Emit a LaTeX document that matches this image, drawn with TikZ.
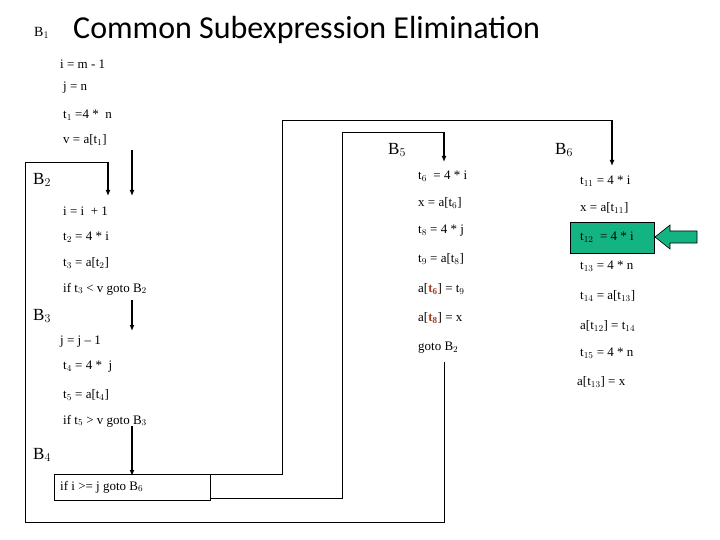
\documentclass[tikz,border=0pt]{standalone}
\usetikzlibrary{arrows.meta}
\usepackage{fontspec}
\setmainfont{Liberation Serif}
\newfontfamily\titlefont{Carlito}
\definecolor{hl}{RGB}{20,180,130}
\definecolor{rd}{RGB}{170,60,30}
\newcommand{\rt}[1]{\textcolor{rd}{\textbf{t}$_{\mathbf{#1}}$}}
\begin{document}
\begin{tikzpicture}[x=1pt,y=-1pt,
  code/.style={anchor=west,inner sep=0pt,font=\fontsize{13}{14}\selectfont},
  blab/.style={anchor=west,inner sep=0pt,font=\fontsize{17}{19}\selectfont},
  ln/.style={line width=0.8pt},
  ar/.style={line width=1.6pt,-{Latex[length=6pt,width=5pt]}}]
\useasboundingbox (0,0) rectangle (720,540);
\node[anchor=west,inner sep=0pt,font=\fontsize{14}{15}\selectfont] (b1) at (34,33) {B$_1$};
\node[anchor=west,inner sep=0pt,font=\titlefont\fontsize{32}{34}\selectfont] (title) at (73,30) {Common Subexpression Elimination};
% B1
\node[code] (l1) at (60,64) {i = m - 1};
\node[code] (l2) at (63,88) {j = n};
\node[code] (l3) at (63,115) {t$_1$ =4 * \ n};
\node[code] (l4) at (63,140) {v = a[t$_1$]};
% B2
\node[blab] (b2) at (33,180) {B$_2$};
\node[code] (l5) at (63,211) {i = i \ + 1};
\node[code] (l6) at (63,237) {t$_2$ = 4 * i};
\node[code] (l7) at (63,263) {t$_3$ = a[t$_2$]};
\node[code] (l8) at (63,289) {if t$_3$ < v goto B$_2$};
% B3
\node[blab] (b3) at (33,316) {B$_3$};
\node[code] (l9) at (60,342) {j = j -- 1};
\node[code] (l10) at (63,367) {t$_4$ = 4 * \ j};
\node[code] (l11) at (63,395) {t$_5$ = a[t$_4$]};
\node[code] (l12) at (63,421) {if t$_5$ > v goto B$_3$};
% B4
\node[blab] (b4) at (33,455) {B$_4$};
\node[draw,ln,minimum width=156pt,minimum height=26pt,anchor=north west,inner sep=0pt] (box4) at (54,474) {};
\node[code] (l13) at (60,487) {if i >= j goto B$_6$};
% B5
\node[blab] (b5) at (388,150) {B$_5$};
\node[code] (m1) at (418,176) {t$_6$ \ = 4 * i};
\node[code] (m2) at (418,203) {x = a[t$_6$]};
\node[code] (m3) at (418,231) {t$_8$ = 4 * j};
\node[code] (m4) at (418,259) {t$_9$ = a[t$_8$]};
\node[code] (m5) at (418,289) {a[\rt{6}] = t$_9$};
\node[code] (m6) at (418,318) {a[\rt{8}] = x};
\node[code] (m7) at (418,348) {goto B$_2$};
% B6
\node[blab] (b6) at (555,150) {B$_6$};
\node[code] (n1) at (580,181) {t$_{11}$ = 4 * i};
\node[code] (n2) at (580,208) {x = a[t$_{11}$]};
\node[draw=black,fill=hl,ln,anchor=north west,minimum width=84pt,minimum height=31pt,inner sep=0pt] (gbox) at (570,222) {};
\node[code] (n3) at (580,237) {t$_{12}$ \ = 4 * i};
\node[code] (n4) at (580,266) {t$_{13}$ = 4 * n};
\node[code] (n5) at (580,296) {t$_{14}$ = a[t$_{13}$]};
\node[code] (n6) at (580,326) {a[t$_{12}$] = t$_{14}$};
\node[code] (n7) at (580,353) {t$_{15}$ = 4 * n};
\node[code] (n8) at (577,382) {a[t$_{13}$] = x};
% green arrow
\draw[fill=hl,line width=0.6pt] (655,237) -- (670,225) -- (670,231) -- (697,231) -- (697,243) -- (670,243) -- (670,249) -- cycle;
% arrows
\coordinate (p1) at (132,150); \coordinate (p2) at (132,196);
\draw[ar] (p1) -- (p2);
\coordinate (q1) at (132,300); \coordinate (q2) at (132,331);
\draw[ar] (q1) -- (q2);
\coordinate (r1) at (132,426); \coordinate (r2) at (132,476);
\draw[ar] (r1) -- (r2);
% B2 back edge
\coordinate (c1) at (444,362); \coordinate (c2) at (444,522); \coordinate (c3) at (25,522); \coordinate (c4) at (25,162); \coordinate (c5) at (108,162); \coordinate (c6) at (108,196);
\draw[ln] (c1) -- (c2) -- (c3) -- (c4) -- (c5);
\draw[ar] (c5) -- (c6);
% B4 -> B6
\coordinate (d1) at (210,474); \coordinate (d2) at (282,474); \coordinate (d3) at (282,120); \coordinate (d4) at (612,120); \coordinate (d5) at (612,166);
\draw[ln] (d1) -- (d2) -- (d3) -- (d4);
\draw[ar] (d4) -- (d5);
% B4 -> B5
\coordinate (e1) at (210,498); \coordinate (e2) at (342,498); \coordinate (e3) at (342,132); \coordinate (e4) at (444,132); \coordinate (e5) at (444,162);
\draw[ln] (e1) -- (e2) -- (e3) -- (e4);
\draw[ar] (e4) -- (e5);
\end{tikzpicture}
\end{document}
